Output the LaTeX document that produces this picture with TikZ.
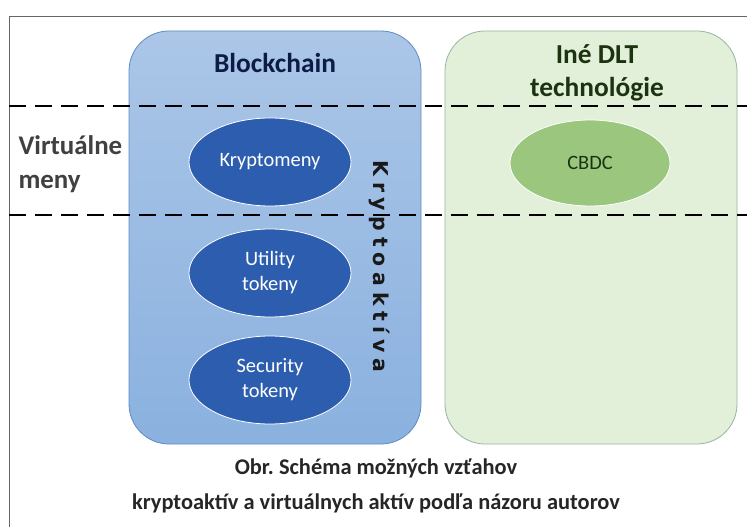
\documentclass[tikz,border=0pt]{standalone}
\usepackage{fontspec}
\setmainfont{Carlito}
\newfontfamily\spacedsans[LetterSpace=28]{DejaVu Sans Bold}
\usetikzlibrary{shapes.geometric}
\definecolor{ink}{HTML}{0E1B47}
\definecolor{leaf}{HTML}{1C3310}
\definecolor{chaintop}{HTML}{ABC6E7}
\definecolor{chainbot}{HTML}{8AB1DF}
\definecolor{chainline}{HTML}{5E8BC6}
\definecolor{coinfill}{HTML}{2D5DAE}
\definecolor{dltfill}{HTML}{E2EFD9}
\definecolor{dltline}{HTML}{98B4A0}
\definecolor{cbdcfill}{HTML}{9AC67E}
\definecolor{side}{HTML}{404040}
\begin{document}
\begin{tikzpicture}[x=1bp,y=-1bp,
 lane/.style={rounded corners=40bp,line width=0.8pt,minimum width=292bp,minimum height=413bp},
 coin/.style={ellipse,draw=white,line width=0.8pt,fill=coinfill,text=white,minimum width=162bp,minimum height=88bp,align=center,font=\fontsize{20.5}{25}\selectfont,inner sep=0pt},
 cut/.style={black,line width=2pt,dash pattern=on 17bp off 9bp},
 title/.style={font=\fontsize{27.5}{33}\selectfont\bfseries,align=center}]
\useasboundingbox (0,0) rectangle (747,527);
% frame, open at right and bottom
\draw[side!80,line width=1pt] (747,17) -- (9,17) -- (9,527);
% the two lanes
\node[lane,draw=chainline,top color=chaintop,bottom color=chainbot] (chain) at (275,237.5) {};
\node[lane,draw=dltline,fill=dltfill] (dlt) at (591,237.5) {};
\node[title,text=ink] (chaintitle) at (275,63) {Blockchain};
\node[title,text=leaf] (dlttitle) at (597,73) {Iné DLT\\technológie};
% blockchain assets
\foreach \yy/\name/\txt in {162/kryptomeny/Kryptomeny, 273/utility/{Utility\\tokeny}, 380/security/{Security\\tokeny}} {
 \node[coin] (\name) at (270,\yy) {\txt};
}
\node[coin,fill=cbdcfill,text=leaf,minimum width=160bp,minimum height=86bp] (cbdc) at (590,163) {CBDC};
\node[rotate=-90,anchor=base,text=black!90,font=\spacedsans\fontsize{20.5}{24}\selectfont] (kryptoaktiva) at (373,266.5) {Kryptoaktíva};
% virtual currencies band
\node[title,text=side,anchor=west,align=left,font=\fontsize{27}{34}\selectfont\bfseries] (virtual) at (15,164) {Virtuálne\\meny};
\draw[cut] (9,106) -- (747,106);
\draw[cut] (9,215) -- (747,215);
% caption
\node[font=\fontsize{22.5}{35}\selectfont\bfseries,text=black!85,align=center] (caption) at (376,486) {Obr.\ Schéma možných vzťahov\\kryptoaktív a virtuálnych aktív podľa názoru autorov};
\end{tikzpicture}
\end{document}
